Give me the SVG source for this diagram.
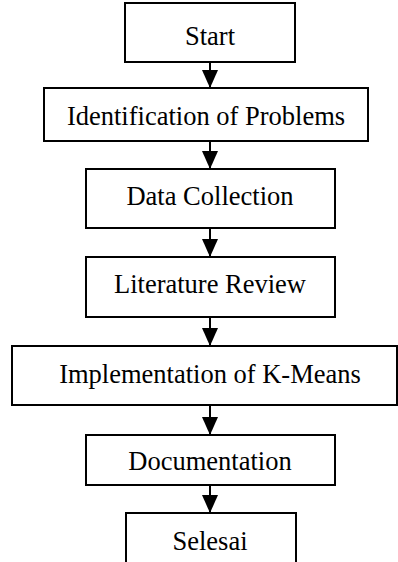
<svg xmlns="http://www.w3.org/2000/svg" width="398" height="562" viewBox="0 0 398 562">
<style>
.box{fill:#fff;stroke:#000;stroke-width:2}
.lbl{font-family:"Liberation Serif","Times New Roman",serif;font-size:26.5px;fill:#000;text-anchor:middle}
.conn{stroke:#000;stroke-width:2;fill:none;marker-end:url(#ah)}
</style>
<defs>
<marker id="ah" viewBox="0 0 18 16" markerWidth="18" markerHeight="16" refX="18" refY="8" orient="auto" markerUnits="userSpaceOnUse">
<path d="M0,0 L18,8 L0,16 z" fill="#000"/>
</marker>
</defs>
<rect width="398" height="562" fill="#fff"/>
<g id="connectors">
<line class="conn" x1="210" y1="62" x2="210" y2="88"/>
<line class="conn" x1="210" y1="141" x2="210" y2="169"/>
<line class="conn" x1="210" y1="228" x2="210" y2="257"/>
<line class="conn" x1="210" y1="317" x2="210" y2="346"/>
<line class="conn" x1="210" y1="405" x2="210" y2="435"/>
<line class="conn" x1="210" y1="485" x2="210" y2="513"/>
</g>
<g id="start"><rect class="box" x="125" y="3" width="170" height="59"/><text class="lbl" x="210" y="45">Start</text></g>
<g id="identification"><rect class="box" x="44" y="88" width="324" height="53"/><text class="lbl" x="206" y="125">Identification of Problems</text></g>
<g id="data-collection"><rect class="box" x="86" y="169" width="249" height="59"/><text class="lbl" x="210" y="205">Data Collection</text></g>
<g id="literature-review"><rect class="box" x="86" y="257" width="249" height="60"/><text class="lbl" x="210" y="293">Literature Review</text></g>
<g id="implementation"><rect class="box" x="12" y="346" width="385" height="59"/><text class="lbl" x="210" y="383">Implementation of K-Means</text></g>
<g id="documentation"><rect class="box" x="86" y="435" width="249" height="50"/><text class="lbl" x="210" y="470">Documentation</text></g>
<g id="selesai"><rect class="box" x="126" y="513" width="170" height="60"/><text class="lbl" x="210" y="550">Selesai</text></g>
</svg>
